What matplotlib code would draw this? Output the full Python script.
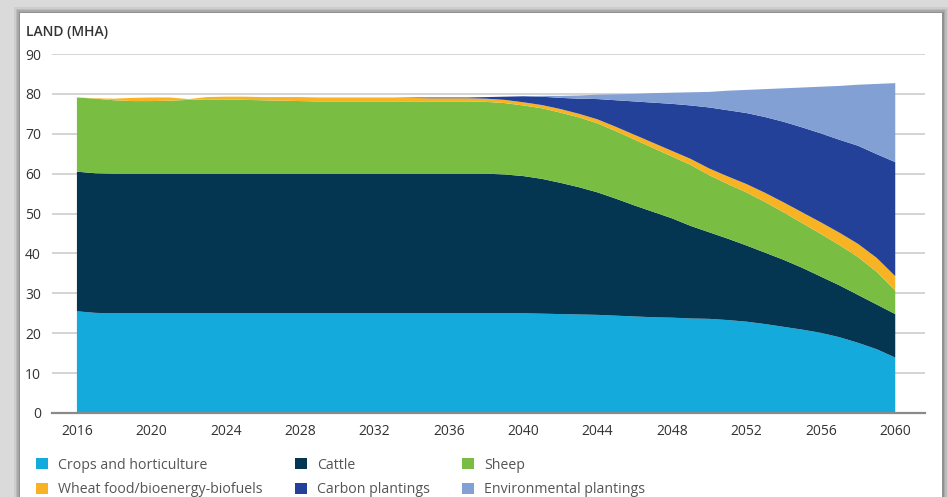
import matplotlib.pyplot as plt
from matplotlib.patches import Rectangle

plt.rcParams['font.family'] = ['Open Sans', 'DejaVu Sans']

years = list(range(2016, 2061))

# Layer thickness in Mha (2016..2060)
crops = [25.5, 25.1, 25.0, 25.0, 25.0, 25.0, 25.0, 25.0, 25.0, 25.0,
         25.0, 25.0, 25.0, 25.0, 25.0, 25.0, 25.0, 25.0, 25.0, 25.0,
         25.0, 25.0, 25.0, 25.0, 25.0, 24.9, 24.8, 24.7, 24.6, 24.4,
         24.2, 24.0, 23.9, 23.7, 23.6, 23.3, 22.9, 22.3, 21.6, 20.9,
         20.1, 19.0, 17.6, 16.0, 13.9]
cattle = [35.0, 35.0, 35.0, 35.0, 35.0, 35.0, 35.0, 35.0, 35.0, 35.0,
          35.0, 35.0, 35.0, 35.0, 35.0, 35.0, 35.0, 35.0, 35.0, 35.0,
          35.0, 35.0, 35.0, 34.8, 34.4, 33.8, 32.9, 31.9, 30.7, 29.3,
          27.8, 26.4, 24.9, 23.2, 21.7, 20.4, 19.1, 17.9, 16.8, 15.5,
          14.1, 13.0, 12.0, 11.2, 10.9]
sheep = [18.6, 18.7, 18.4, 18.2, 18.2, 18.3, 18.5, 18.6, 18.6, 18.5,
         18.4, 18.3, 18.2, 18.1, 18.1, 18.1, 18.1, 18.1, 18.1, 18.1,
         18.1, 18.1, 18.0, 17.9, 17.7, 17.7, 17.6, 17.5, 17.3, 16.9,
         16.5, 16.0, 15.5, 15.3, 14.3, 13.7, 13.3, 12.7, 11.9, 11.2,
         10.7, 10.1, 9.5, 8.2, 5.9]
wheat = [0.0, 0.1, 0.4, 0.8, 0.9, 0.8, 0.2, 0.6, 0.7, 0.8,
         0.8, 0.9, 1.0, 1.0, 1.0, 1.0, 1.0, 1.0, 0.9, 0.8,
         0.8, 0.8, 0.8, 0.8, 0.8, 0.8, 0.9, 0.9, 1.0, 1.1,
         1.2, 1.3, 1.4, 1.5, 1.7, 1.9, 2.1, 2.3, 2.5, 2.7,
         2.9, 3.1, 3.3, 3.5, 3.6]
carbon = [0.0, 0.0, 0.0, 0.0, 0.0, 0.0, 0.0, 0.0, 0.0, 0.0,
          0.0, 0.0, 0.0, 0.0, 0.0, 0.0, 0.0, 0.0, 0.1, 0.2,
          0.2, 0.2, 0.4, 0.8, 1.5, 2.1, 2.8, 3.8, 5.1, 6.7,
          8.4, 10.1, 11.8, 13.4, 15.3, 16.6, 17.8, 19.0, 20.2, 21.3,
          22.3, 23.3, 24.6, 26.0, 28.6]
env = [0.0, 0.0, 0.0, 0.0, 0.0, 0.0, 0.0, 0.0, 0.0, 0.0,
       0.0, 0.0, 0.0, 0.0, 0.0, 0.0, 0.0, 0.0, 0.0, 0.0,
       0.0, 0.0, 0.0, 0.0, 0.0, 0.2, 0.5, 0.8, 1.1, 1.5,
       1.9, 2.4, 2.8, 3.3, 3.9, 4.9, 5.8, 7.0, 8.4, 10.0,
       11.7, 13.5, 15.3, 17.6, 19.8]

labels = ['Crops and horticulture', 'Cattle', 'Sheep',
          'Wheat food/bioenergy-biofuels', 'Carbon plantings',
          'Environmental plantings']
colors = ['#14aadc', '#043651', '#79be43', '#f8b325', '#24419a', '#83a0d4']

x_ticks = list(range(2016, 2061, 4))
y_ticks = list(range(0, 91, 10))

fig = plt.figure(figsize=(9.48, 4.97), dpi=100)
fig.patch.set_facecolor('#dadada')

# card with a soft shadow
W, H = 948, 497
for i, a in enumerate([0.06, 0.08, 0.1, 0.14]):
    fig.patches.append(Rectangle(((20 - 6 + i * 1.5) / W, 0), (922 + 12 - i * 3) / W,
                                 (484 + 6 - i * 1.5) / H, transform=fig.transFigure,
                                 facecolor='black', alpha=a, edgecolor='none', zorder=-2))
fig.patches.append(Rectangle((20 / W, 0), 922 / W, 484 / H, transform=fig.transFigure,
                             facecolor='white', edgecolor='none', zorder=-1))

ax = fig.add_axes([52 / W, 84 / H, 873 / W, 359 / H])
ax.set_zorder(2)
ax.set_facecolor('none')

polys = ax.stackplot(years, crops, cattle, sheep, wheat, carbon, env,
                     colors=colors, labels=labels, linewidth=0, zorder=3)

ax.set_xlim(2014.66, 2061.6)
ax.set_ylim(0, 90)
ax.set_xticks(x_ticks)
ax.set_yticks(y_ticks)
ax.tick_params(length=0, labelsize=10, labelcolor='#333333')
ax.tick_params(axis='y', pad=8)
ax.tick_params(axis='x', pad=8)
ax.grid(axis='y', color='#c9c9c9', linewidth=1.1, zorder=1)
ax.set_axisbelow(True)
for s in ['top', 'right', 'left']:
    ax.spines[s].set_visible(False)
ax.spines['bottom'].set_color('#8a8a8a')
ax.spines['bottom'].set_linewidth(1.6)
ax.spines['bottom'].set_zorder(4)

fig.text(26 / W, 1 - 32 / H, 'LAND (MHA)', fontsize=10, fontweight='semibold',
         color='#333333', va='center', ha='left')

order = [0, 3, 1, 4, 2, 5]
fig.legend([polys[i] for i in order], [labels[i] for i in order],
           ncol=3, loc='upper left', bbox_to_anchor=(30 / W, 1 - 452 / H),
           frameon=False, fontsize=10.2, labelcolor='#555555',
           handlelength=0.85, handleheight=0.85, handletextpad=0.7,
           columnspacing=2.3, labelspacing=0.68, borderaxespad=0)

fig.savefig('out.png', dpi=100, facecolor=fig.get_facecolor())
